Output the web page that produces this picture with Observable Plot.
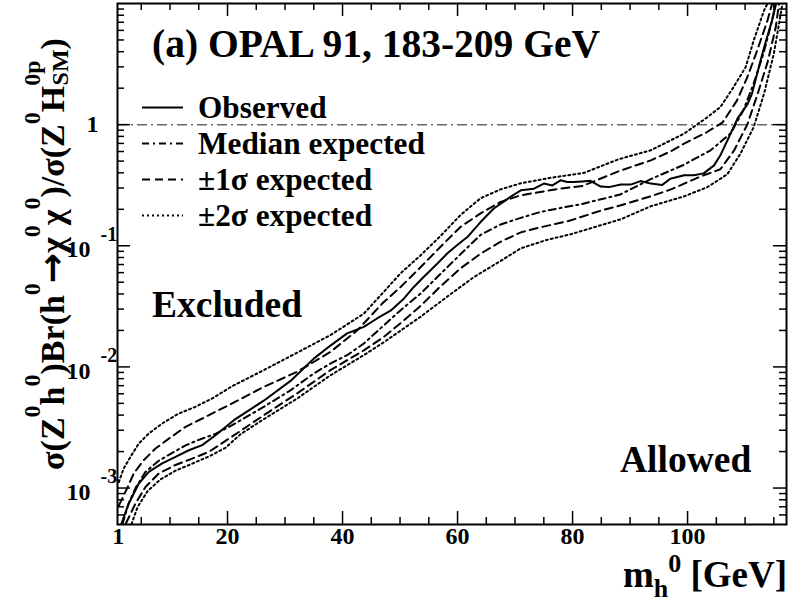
<!DOCTYPE html>
<html><head><meta charset="utf-8">
<script src="https://cdn.jsdelivr.net/npm/d3@7"></script>
<script src="https://cdn.jsdelivr.net/npm/@observablehq/plot@0.6"></script>
<style>body{margin:0;background:#fff}svg{display:block}</style>
</head><body><div id="chart"></div>
<script>
// ---- data ----
const obsMass = [1.5, 2.83, 4.57, 6.31, 8.64, 10.96, 13.27, 15.6, 17.91, 21.1, 26.3, 30.96, 35.0, 37.9, 40.8, 43.7, 46.0, 48.35, 50.66, 52.4, 54.1, 56.5, 58.2, 59.9, 61.7, 64.0, 66.3, 69.2, 71.0, 73.3, 75.0, 76.5, 77.9, 79.1, 80.2, 81.7, 83.1, 84.9, 86.3, 88.4, 90.1, 91.8, 93.6, 95.6, 97.0, 99.4, 101.1, 102.8, 104.6, 105.7, 107.2, 108.7, 110.4, 111.2, 111.8, 112.7, 113.6, 114.7, 115.4];
const obsLimit = [5.0e-4, 7.46e-4, 1.09e-3, 1.36e-3, 1.60e-3, 1.81e-3, 2.05e-3, 2.26e-3, 2.73e-3, 3.63e-3, 5.26e-3, 7.66e-3, 1.17e-2, 1.50e-2, 1.89e-2, 2.14e-2, 2.51e-2, 2.91e-2, 3.66e-2, 4.57e-2, 5.53e-2, 7.13e-2, 8.63e-2, 0.101, 0.118, 0.157, 0.203, 0.253, 0.287, 0.296, 0.326, 0.315, 0.347, 0.336, 0.336, 0.340, 0.344, 0.308, 0.305, 0.321, 0.320, 0.342, 0.326, 0.318, 0.358, 0.382, 0.382, 0.396, 0.461, 0.558, 0.791, 1.127, 1.469, 1.803, 2.323, 3.396, 4.864, 7.261, 10.0];

const medMass = [1.74, 2.78, 4.0, 5.74, 8.05, 10.38, 12.7, 15.0, 17.9, 20.8, 26.3, 31.0, 35.0, 37.9, 40.8, 43.7, 46.6, 50.1, 53.6, 57.1, 60.5, 64.0, 67.5, 71.0, 74.4, 77.9, 81.4, 88.3, 93.6, 99.3, 104.0, 107.5, 109.7, 111.5, 113.2, 114.7, 115.3];
const medLimit = [5.04e-4, 7.4e-4, 1.0e-3, 1.36e-3, 1.68e-3, 1.95e-3, 2.25e-3, 2.5e-3, 2.8e-3, 3.3e-3, 4.68e-3, 6.43e-3, 8.83e-3, 1.067e-2, 1.25e-2, 1.56e-2, 2.08e-2, 2.94e-2, 4.04e-2, 5.90e-2, 8.5e-2, 0.123, 0.150, 0.170, 0.190, 0.205, 0.220, 0.265, 0.355, 0.465, 0.614, 0.847, 1.312, 2.193, 3.873, 7.261, 10.0];

const plus1Mass = [1.13, 2.56, 3.70, 5.44, 7.48, 9.79, 12.7, 15.6, 17.9, 20.8, 26.3, 32.1, 37.9, 42.6, 46.9, 50.1, 53.6, 57.0, 60.5, 64.0, 67.5, 71.0, 74.4, 77.9, 81.7, 88.0, 93.6, 97.1, 99.4, 103.4, 106.1, 108.6, 110.4, 112.1, 113.9, 114.7];
const plus1Limit = [7.2e-4, 1.0e-3, 1.32e-3, 1.70e-3, 2.12e-3, 2.56e-3, 3.20e-3, 3.75e-3, 4.26e-3, 4.99e-3, 6.84e-3, 9.10e-3, 1.33e-2, 2.01e-2, 3.33e-2, 4.57e-2, 6.68e-2, 9.77e-2, 0.143, 0.185, 0.230, 0.261, 0.278, 0.297, 0.311, 0.412, 0.507, 0.603, 0.697, 0.869, 1.045, 1.585, 2.472, 4.102, 7.261, 9.95];

const plus2Mass = [1.1, 1.97, 3.13, 4.57, 6.31, 8.64, 11.5, 14.4, 17.3, 20.8, 26.3, 32.1, 37.9, 43.7, 47.1, 50.1, 53.6, 57.0, 60.5, 64.0, 67.5, 71.0, 76.2, 82.0, 88.0, 93.6, 99.4, 103.4, 105.7, 108.0, 110.1, 111.5, 113.3, 113.9];
const plus2Limit = [1.12e-3, 1.46e-3, 1.81e-3, 2.33e-3, 2.82e-3, 3.41e-3, 4.12e-3, 4.68e-3, 5.48e-3, 6.93e-3, 9.40e-3, 1.31e-2, 1.83e-2, 2.75e-2, 4.13e-2, 5.93e-2, 8.36e-2, 0.120, 0.179, 0.247, 0.292, 0.328, 0.364, 0.400, 0.518, 0.614, 0.843, 1.148, 1.396, 2.042, 2.985, 4.966, 8.770, 10.0];

const minus1Mass = [2.33, 4.0, 5.74, 8.05, 10.96, 13.86, 16.75, 19.65, 21.1, 26.3, 32.1, 37.9, 43.7, 47.2, 50.1, 53.6, 57.0, 60.5, 64.0, 67.5, 71.0, 74.4, 79.3, 84.9, 88.4, 93.6, 97.1, 102.3, 105.7, 108.1, 110.4, 112.1, 113.9, 115.3, 115.9];
const minus1Limit = [5.1e-4, 7.46e-4, 1.02e-3, 1.32e-3, 1.55e-3, 1.75e-3, 1.99e-3, 2.45e-3, 2.72e-3, 3.99e-3, 6.04e-3, 9.40e-3, 1.37e-2, 1.77e-2, 2.3e-2, 3.2e-2, 4.6e-2, 6.5e-2, 8.6e-2, 0.108, 0.129, 0.142, 0.160, 0.195, 0.216, 0.256, 0.292, 0.374, 0.428, 0.614, 1.005, 1.746, 3.266, 6.237, 9.95];

const minus2Mass = [3.3, 4.35, 6.09, 8.35, 10.96, 13.86, 16.75, 19.65, 22.3, 26.3, 32.1, 37.9, 43.7, 47.2, 53.6, 58.2, 62.8, 67.5, 71.0, 75.6, 79.7, 88.4, 93.6, 99.4, 103.4, 106.9, 109.2, 111.5, 113.3, 115.0, 116.2, 116.5];
const minus2Limit = [5.03e-4, 6.95e-4, 9.42e-4, 1.18e-3, 1.39e-3, 1.59e-3, 1.82e-3, 2.15e-3, 2.79e-3, 3.70e-3, 5.48e-3, 8.53e-3, 1.25e-2, 1.60e-2, 2.6e-2, 3.8e-2, 5.5e-2, 7.5e-2, 9.53e-2, 0.112, 0.1245, 0.1656, 0.2118, 0.2559, 0.304, 0.389, 0.577, 0.955, 1.803, 3.855, 8.24, 10.0];

const xMajorTicks = [20, 40, 60, 80, 100];
const xMinorTicks = [5, 10, 15, 25, 30, 35, 45, 50, 55, 65, 70, 75, 85, 90, 95, 105, 110, 115];
const xTickLabels = [1, 20, 40, 60, 80, 100];
const yMajorTicks = [1e-3, 1e-2, 1e-1, 1];
const yMinorMultipliers = [2, 3, 4, 5, 6, 7, 8, 9];
const yDecades = [1e-4, 1e-3, 1e-2, 1e-1, 1];
const yPowerLabels = [[1e-3, "-3"], [1e-2, "-2"], [1e-1, "-1"]];

const legendItems = [
  {label: "Observed", dash: null},
  {label: "Median expected", dash: "7,4,2,4"},
  {label: "\u00b11\u03c3 expected", dash: "8,5"},
  {label: "\u00b12\u03c3 expected", dash: "2,3"}
];

// y-axis title pieces: [text, kind] (b = base, p = superscript, s = subscript, a = arrow)
const yTitleParts = [
  ["\u03c3(Z", "b"], ["0", "p"], ["h", "b"], ["0", "p"], [")Br(h", "b"], ["0", "p"],
  ["\u2192", "a"], ["\u03c7", "b"], ["0", "p"], ["\u03c7", "b"], ["0", "p"],
  [")/\u03c3(Z", "b"], ["0", "p"], ["H", "b"], ["0p", "p"], ["SM", "s"], [")", "b"]
];

// ---- build ----
const W = 801, H = 603;
const mL = 117, mR = 15, mT = 3, mB = 79;
const plotW = W - mL - mR, plotH = H - mT - mB;
const FONT = "'Liberation Serif', 'Times New Roman', serif";
const yDomain = [5e-4, 10];
const yMinorTicks = yDecades.flatMap(d => yMinorMultipliers.map(k => k * d)).filter(v => v > yDomain[0] && v < yDomain[1]);

const rows = (ms, vs) => ms.map((m, i) => ({m, v: vs[i]}));
const lineOpts = {x: "m", y: "v", stroke: "black", strokeWidth: 2, clip: true};

const chart = Plot.plot({
  width: W, height: H,
  marginLeft: mL, marginRight: mR, marginTop: mT, marginBottom: mB,
  x: {domain: [0.87, 117.2], axis: null},
  y: {type: "log", domain: yDomain, axis: null},
  marks: [
    Plot.ruleY([1], {stroke: "#666", strokeWidth: 1.5, strokeDasharray: "10,4,2,4"}),
    Plot.line(rows(plus2Mass, plus2Limit), {...lineOpts, strokeDasharray: "2,3"}),
    Plot.line(rows(minus2Mass, minus2Limit), {...lineOpts, strokeDasharray: "2,3"}),
    Plot.line(rows(plus1Mass, plus1Limit), {...lineOpts, strokeDasharray: "8,5"}),
    Plot.line(rows(minus1Mass, minus1Limit), {...lineOpts, strokeDasharray: "8,5"}),
    Plot.line(rows(medMass, medLimit), {...lineOpts, strokeDasharray: "7,4,2,4"}),
    Plot.line(rows(obsMass, obsLimit), {...lineOpts}),
    // ticks (inward, all four sides)
    Plot.tickX(xMajorTicks, {x: d => d, insetTop: plotH - 13, strokeWidth: 1.5}),
    Plot.tickX(xMinorTicks, {x: d => d, insetTop: plotH - 7, strokeWidth: 1.5}),
    Plot.tickX(xMajorTicks, {x: d => d, insetBottom: plotH - 13, strokeWidth: 1.5}),
    Plot.tickX(xMinorTicks, {x: d => d, insetBottom: plotH - 7, strokeWidth: 1.5}),
    Plot.tickY(yMajorTicks, {y: d => d, insetRight: plotW - 13, strokeWidth: 1.5}),
    Plot.tickY(yMinorTicks, {y: d => d, insetRight: plotW - 7, strokeWidth: 1.5}),
    Plot.tickY(yMajorTicks, {y: d => d, insetLeft: plotW - 13, strokeWidth: 1.5}),
    Plot.tickY(yMinorTicks, {y: d => d, insetLeft: plotW - 7, strokeWidth: 1.5}),
    Plot.frame({stroke: "black", strokeWidth: 2}),
    // tick labels
    Plot.text(xTickLabels, {x: d => d, text: d => String(d), frameAnchor: "bottom", dy: 19,
      fontSize: 24, fontWeight: "bold", fontFamily: FONT, fill: "black"}),
    Plot.text([1], {y: d => d, text: () => "1", frameAnchor: "left", dx: -19, textAnchor: "end",
      fontSize: 24, fontWeight: "bold", fontFamily: FONT, fill: "black"}),
    Plot.text(yPowerLabels, {y: d => d[0], text: () => "10", frameAnchor: "left", dx: -27, dy: 4, textAnchor: "end",
      fontSize: 24, fontWeight: "bold", fontFamily: FONT, fill: "black"}),
    Plot.text(yPowerLabels, {y: d => d[0], text: d => d[1], frameAnchor: "left", dx: -17, dy: -11, textAnchor: "start",
      fontSize: 20, fontWeight: "bold", fontFamily: FONT, fill: "black"})
  ]
});

const svg = d3.select(chart);
const addText = (x, y, size, str) => svg.append("text").attr("x", x).attr("y", y)
  .attr("font-size", size).attr("font-weight", "bold").attr("font-family", FONT)
  .attr("text-anchor", "start").attr("fill", "black").text(str);

// title
addText(152, 57, 39.5, "(a) OPAL 91, 183-209 GeV");

// legend
legendItems.forEach((it, i) => {
  const yb = 118 + i * 36;
  svg.append("line").attr("x1", 142).attr("x2", 183).attr("y1", yb - 10.5).attr("y2", yb - 10.5)
    .attr("stroke", "black").attr("stroke-width", 2).attr("stroke-dasharray", it.dash);
  addText(198, yb, 31.3, it.label);
});

// region labels
addText(152, 317, 37.5, "Excluded");
addText(620, 472, 37.5, "Allowed");

// x-axis title
const xt = svg.append("text").attr("x", 787).attr("y", 587).attr("text-anchor", "end")
  .attr("font-size", 37).attr("font-weight", "bold").attr("font-family", FONT).attr("fill", "black");
xt.append("tspan").text("m");
xt.append("tspan").attr("font-size", 26).attr("dy", 10).text("h");
xt.append("tspan").attr("font-size", 26).attr("dy", -25).text("0");
xt.append("tspan").attr("dy", 15).text(" [GeV]");

// y-axis title
const yMain = 34, ySmall = 24;
const yt = svg.append("text").attr("transform", "translate(64,254) rotate(-90)").attr("text-anchor", "middle")
  .attr("font-size", yMain).attr("font-weight", "bold").attr("font-family", FONT).attr("fill", "black");
const shift = {b: 0, a: 0, p: -24, s: 4};
let cur = 0;
yTitleParts.forEach(([str, kind]) => {
  const t = yt.append("tspan").attr("dy", shift[kind] - cur).text(str);
  cur = shift[kind];
  if (kind === "p" || kind === "s") t.attr("font-size", ySmall);
  if (kind === "s") t.attr("dx", -25);
  if (kind === "a") t.attr("font-family", "'DejaVu Sans', sans-serif").attr("font-size", 36);
});

document.getElementById("chart").appendChild(chart);
</script>
</body></html>
